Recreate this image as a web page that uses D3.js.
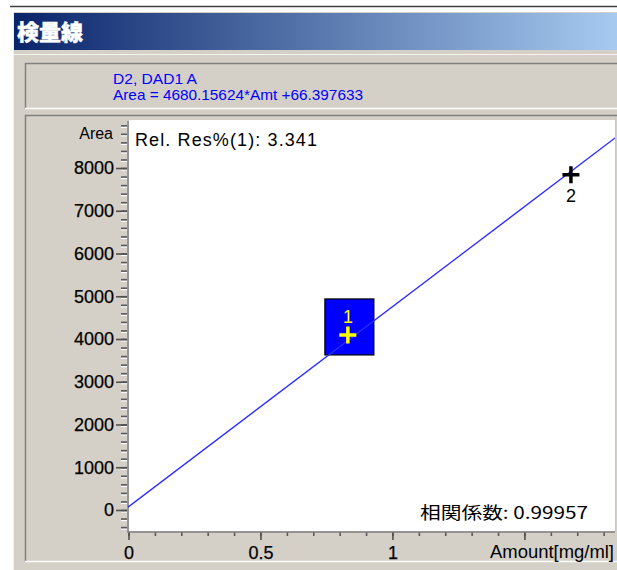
<!DOCTYPE html>
<html>
<head>
<meta charset="utf-8">
<script src="https://cdn.jsdelivr.net/npm/d3@7/dist/d3.min.js"></script>
<style>
  html, body { margin: 0; padding: 0; background: #ffffff; }
  svg { display: block; }
  text { font-family: "Liberation Sans", Arial, sans-serif; }
</style>
</head>
<body>
<svg id="chart" width="617" height="570"></svg>
<script>
// Calibration data (amount in mg/ml, peak area)
const pointAmounts = [0.833, 1.678];
const pointAreas = [4095, 7840];
const pointLabels = ["1", "2"];

// Regression result shown in the header
const slope = 4680.15624;
const intercept = 66.397633;
const signalName = "D2, DAD1  A";
const equationText = "Area = 4680.15624*Amt +66.397633";
const relResText = "Rel. Res%(1): 3.341";
const corrText = "相関係数: 0.99957";

// Axis ticks
const yTicks = [0, 1000, 2000, 3000, 4000, 5000, 6000, 7000, 8000];
const yMinorTicks = d3.range(-400, 9001, 200);
const xTicks = [0, 0.5, 1, 1.5];
const xTickLabels = ["0", "0.5", "1", ""];
const xMinorTicks = d3.range(0, 19).map(i => i / 10);

const W = 617, H = 570;
const svg = d3.select("#chart");

// Window chrome
const grey = "#d4d0c8";
svg.append("rect").attr("x", 0).attr("y", 0).attr("width", W).attr("height", H).attr("fill", "#ffffff");
svg.append("line").attr("x1", 10).attr("x2", W).attr("y1", 6.5).attr("y2", 6.5)
  .attr("stroke", "#404040").attr("stroke-width", 1.5);
svg.append("rect").attr("x", 13).attr("y", 12).attr("width", W - 13).attr("height", H - 12).attr("fill", grey);
svg.append("line").attr("x1", 13.5).attr("x2", 13.5).attr("y1", 12).attr("y2", H).attr("stroke", "#f0efeb");

// Title bar gradient
const defs = svg.append("defs");
const grad = defs.append("linearGradient").attr("id", "titleGrad")
  .attr("x1", "0%").attr("x2", "100%").attr("y1", "0%").attr("y2", "0%");
grad.append("stop").attr("offset", "0%").attr("stop-color", "#0a246a");
grad.append("stop").attr("offset", "100%").attr("stop-color", "#a6caf0");
svg.append("rect").attr("x", 14).attr("y", 13).attr("width", W - 14).attr("height", 37).attr("fill", "url(#titleGrad)");
svg.append("text").attr("x", 17).attr("y", 40)
  .style("font-family", "'Noto Sans CJK JP', sans-serif")
  .style("font-size", "22px").style("font-weight", "900")
  .attr("fill", "#ffffff").attr("stroke", "#ffffff").attr("stroke-width", 0.4)
  .text("検量線");

// Sunken panel helper
function sunken(x, y, w, h) {
  svg.append("path").attr("d", `M${x + 0.5},${y + h} V${y + 0.5} H${W}`)
    .attr("fill", "none").attr("stroke", "#808080").attr("stroke-width", 1.5);
  svg.append("path").attr("d", `M${x},${y + h - 0.5} H${W}`)
    .attr("fill", "none").attr("stroke", "#ffffff").attr("stroke-width", 1.5);
}
svg.append("line").attr("x1", 14).attr("x2", W).attr("y1", 54.5).attr("y2", 54.5).attr("stroke", "#f4f3ef");
sunken(25, 63, W - 25, 46);
sunken(25, 115, W - 25, 447);

// Header text
svg.append("text").attr("x", 113).attr("y", 84)
  .attr("fill", "#0000ff").style("font-size", "15px")
  .attr("textLength", 84).attr("lengthAdjust", "spacingAndGlyphs")
  .text(signalName);
svg.append("text").attr("x", 113).attr("y", 100)
  .attr("fill", "#0000ff").style("font-size", "15px")
  .attr("textLength", 250).attr("lengthAdjust", "spacingAndGlyphs")
  .text(equationText);

// Scales
const x = d3.scaleLinear().domain([0, 1.845]).range([128, 615]);
const y = d3.scaleLinear().domain([-515, 9100]).range([532, 121]);

// Plot area
svg.append("rect").attr("x", 129).attr("y", 120).attr("width", 486).attr("height", 411).attr("fill", "#ffffff");
svg.append("line").attr("x1", 615.5).attr("x2", 615.5).attr("y1", 117).attr("y2", 531).attr("stroke", "#c8c8c8");

// Y axis minor ticks (etched look: white highlight under a grey mark)
const yMinorAxis = d3.axisLeft(y).tickValues(yMinorTicks).tickSize(6).tickFormat("");
const gyMinorHi = svg.append("g").attr("transform", "translate(127,1.5)").call(yMinorAxis);
gyMinorHi.select(".domain").remove();
gyMinorHi.selectAll(".tick line").attr("stroke", "#ffffff").attr("stroke-width", 1.2);
const gyMinor = svg.append("g").attr("transform", "translate(127,0)").call(yMinorAxis);
gyMinor.select(".domain").remove();
gyMinor.selectAll(".tick line").attr("stroke", "#5a5a5a").attr("stroke-width", 1.6);

// Y axis major ticks and labels
const yAxis = d3.axisLeft(y).tickValues(yTicks).tickSize(11).tickPadding(2).tickFormat(d3.format("d"));
const gy = svg.append("g").attr("transform", "translate(127,0)").call(yAxis);
gy.select(".domain").remove();
gy.selectAll(".tick line").attr("stroke", "#505050").attr("stroke-width", 1.6);
gy.selectAll("text").attr("fill", "#000").style("font-size", "18px")
  .style("font-family", "'Liberation Sans', Arial, sans-serif")
  .attr("stroke", "#000").attr("stroke-width", 0.25);

// X axis minor ticks
const xMinorAxis = d3.axisBottom(x).tickValues(xMinorTicks).tickSize(4).tickFormat("");
const gxMinor = svg.append("g").attr("transform", "translate(0.5,532)").call(xMinorAxis);
gxMinor.select(".domain").remove();
gxMinor.selectAll(".tick line").attr("stroke", "#5a5a5a").attr("stroke-width", 1.6);

// X axis major ticks and labels
const xAxis = d3.axisBottom(x).tickValues(xTicks).tickSize(8).tickPadding(6)
  .tickFormat((d, i) => xTickLabels[i]);
const gx = svg.append("g").attr("transform", "translate(0.5,532)").call(xAxis);
gx.select(".domain").remove();
gx.selectAll(".tick line").attr("stroke", "#505050").attr("stroke-width", 1.6);
gx.selectAll("text").attr("fill", "#000").style("font-size", "18px")
  .style("font-family", "'Liberation Sans', Arial, sans-serif")
  .attr("stroke", "#000").attr("stroke-width", 0.25);

// Axis lines
svg.append("line").attr("x1", 128).attr("x2", 128).attr("y1", 121).attr("y2", 533)
  .attr("stroke", "#808080").attr("stroke-width", 1.5);
svg.append("line").attr("x1", 128).attr("x2", 615).attr("y1", 532).attr("y2", 532)
  .attr("stroke", "#808080").attr("stroke-width", 1.5);

// Axis titles
svg.append("text").attr("x", 113).attr("y", 139).attr("text-anchor", "end")
  .style("font-size", "16px").attr("fill", "#000").text("Area");
svg.append("text").attr("x", 614).attr("y", 558).attr("text-anchor", "end")
  .style("font-size", "18px").attr("fill", "#000")
  .attr("textLength", 124).attr("lengthAdjust", "spacingAndGlyphs")
  .text("Amount[mg/ml]");

// Annotations
svg.append("text").attr("x", 135).attr("y", 146)
  .style("font-size", "18px").attr("fill", "#000")
  .attr("textLength", 182).attr("lengthAdjust", "spacing")
  .text(relResText);
svg.append("text").attr("x", 420).attr("y", 519)
  .style("font-family", "'Noto Sans CJK JP', 'Liberation Sans', sans-serif")
  .style("font-size", "17px").attr("fill", "#000")
  .attr("textLength", 168).attr("lengthAdjust", "spacingAndGlyphs")
  .text(corrText);

// Highlight box behind the selected point
const p0x = x(pointAmounts[0]), p0y = y(pointAreas[0]);
svg.append("rect").attr("x", p0x - 23).attr("y", p0y - 36).attr("width", 49).attr("height", 56)
  .attr("fill", "#0000ff").attr("stroke", "#000").attr("stroke-width", 1.2);

// Calibration line from the regression equation
const plotClip = defs.append("clipPath").attr("id", "plotClip");
plotClip.append("rect").attr("x", 128).attr("y", 120).attr("width", 487).attr("height", 412);
const lineData = x.domain().map(a => ({ a, v: slope * a + intercept }));
svg.append("path").datum(lineData)
  .attr("clip-path", "url(#plotClip)")
  .attr("d", d3.line().x(d => x(d.a)).y(d => y(d.v)))
  .attr("fill", "none").attr("stroke", "#2b2bff").attr("stroke-width", 1.3);

// Calibration points
const pointColors = ["#ffff00", "#000000"];
const labelDy = [-12, 27];
const pts = svg.append("g").selectAll("g").data(pointAmounts).join("g")
  .attr("transform", (d, i) => `translate(${x(d)},${y(pointAreas[i])})`);
pts.append("path").attr("d", "M-8.5,0H8.5M0,-8.5V8.5")
  .attr("stroke", (d, i) => pointColors[i]).attr("stroke-width", 3.5).attr("fill", "none");
pts.append("text").attr("x", 0).attr("y", (d, i) => labelDy[i]).attr("text-anchor", "middle")
  .style("font-size", "18px").attr("fill", (d, i) => i === 0 ? "#ffff00" : "#000")
  .text((d, i) => pointLabels[i]);
</script>
</body>
</html>
